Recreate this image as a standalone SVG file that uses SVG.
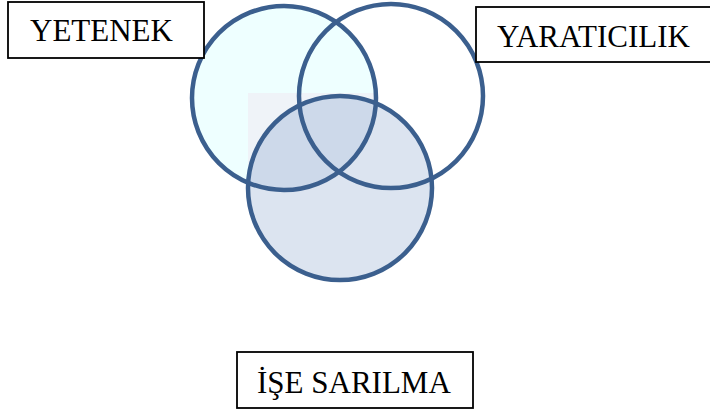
<svg xmlns="http://www.w3.org/2000/svg" width="710" height="412" viewBox="0 0 710 412">
<style>
.s{fill:none;stroke:#3B5F8E;stroke-width:4.5}
.box{fill:#fff;stroke:#000;stroke-width:1.8}
.t{font-family:"Liberation Serif","Times New Roman",serif;font-size:31px;fill:#000}
</style>
<defs>
<clipPath id="clipA"><circle cx="284" cy="98" r="92"/></clipPath>
<clipPath id="clipC"><circle cx="340" cy="188" r="92"/></clipPath>
</defs>
<rect width="710" height="412" fill="#fff"/>
<g id="venn-fills">
<circle cx="284" cy="98" r="92" fill="#EEFFFF"/>
<rect x="248" y="93" width="184" height="165" fill="#EFF3F8" clip-path="url(#clipA)"/>
<circle cx="340" cy="188" r="92" fill="#DCE4F0"/>
<g clip-path="url(#clipC)" fill="#CDD9EA">
<circle cx="284" cy="98" r="92"/>
</g>
</g>
<g id="yetenek-circle"><circle class="s" cx="284" cy="98" r="92"/></g>
<g id="yaraticilik-circle"><circle class="s" cx="391" cy="96" r="92"/></g>
<g id="ise-circle"><circle class="s" cx="340" cy="188" r="92"/></g>
<g id="yetenek">
<rect class="box" x="8" y="2" width="196" height="56"/>
<text class="t" x="30" y="41">YETENEK</text>
</g>
<g id="yaraticilik">
<rect class="box" x="476" y="7" width="236" height="55"/>
<text class="t" x="497" y="47">YARATICILIK</text>
</g>
<g id="ise-sarilma">
<rect class="box" x="237" y="352" width="236" height="56"/>
<text class="t" x="257" y="393">İŞE SARILMA</text>
</g>
</svg>
